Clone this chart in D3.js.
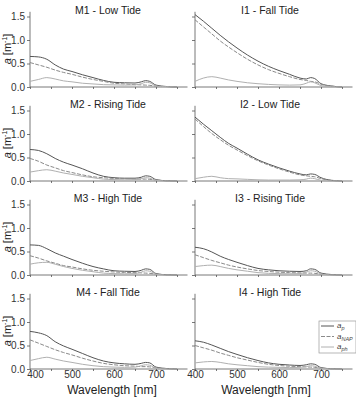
<!DOCTYPE html>
<html>
<head>
<meta charset="utf-8">
<script src="https://cdn.jsdelivr.net/npm/d3@7"></script>
<style>
  body { margin: 0; background: #fff; }
  svg { font-family: "Liberation Sans", Arial, sans-serif; }
  .axis path, .axis line { stroke: #555; stroke-width: 0.8; }
  .axis text { fill: #333; font-size: 10px; }
</style>
</head>
<body>
<div id="chart"></div>
<script>
// wavelengths (nm) shared by all panels
const wavelengths = [400, 420, 440, 460, 480, 500, 525, 550, 575, 600, 625, 650, 665, 675, 685, 700, 725, 750];

const panelNames = ["M1 - Low Tide", "I1 - Fall Tide", "M2 - Rising Tide", "I2 - Low Tide",
  "M3 - High Tide", "I3 - Rising Tide", "M4 - Fall Tide", "I4 - High Tide"];

const m1_ap = [0.65, 0.64, 0.59, 0.47, 0.38, 0.33, 0.26, 0.20, 0.14, 0.10, 0.09, 0.085, 0.11, 0.135, 0.12, 0.04, 0.01, 0.0];
const m1_nap = [0.52, 0.47, 0.42, 0.36, 0.31, 0.27, 0.21, 0.16, 0.12, 0.08, 0.065, 0.05, 0.045, 0.04, 0.035, 0.02, 0.01, 0.0];
const m1_aph = [0.12, 0.16, 0.20, 0.17, 0.13, 0.11, 0.08, 0.065, 0.05, 0.045, 0.04, 0.045, 0.07, 0.10, 0.09, 0.02, 0.005, 0.0];

const i1_ap = [1.54, 1.40, 1.25, 1.10, 0.96, 0.83, 0.68, 0.55, 0.44, 0.35, 0.27, 0.19, 0.17, 0.20, 0.18, 0.07, 0.02, 0.0];
const i1_nap = [1.43, 1.28, 1.13, 0.98, 0.85, 0.73, 0.59, 0.47, 0.37, 0.29, 0.22, 0.16, 0.14, 0.12, 0.11, 0.06, 0.02, 0.0];
const i1_aph = [0.12, 0.19, 0.22, 0.19, 0.15, 0.12, 0.09, 0.07, 0.055, 0.045, 0.04, 0.045, 0.08, 0.11, 0.09, 0.03, 0.005, 0.0];

const m2_ap = [0.67, 0.65, 0.58, 0.48, 0.40, 0.34, 0.26, 0.17, 0.10, 0.07, 0.06, 0.06, 0.08, 0.11, 0.10, 0.03, 0.005, 0.0];
const m2_nap = [0.48, 0.42, 0.34, 0.28, 0.22, 0.18, 0.13, 0.09, 0.07, 0.055, 0.05, 0.045, 0.04, 0.04, 0.035, 0.02, 0.005, 0.0];
const m2_aph = [0.19, 0.22, 0.24, 0.21, 0.17, 0.14, 0.10, 0.07, 0.04, 0.03, 0.025, 0.03, 0.05, 0.07, 0.06, 0.015, 0.0, 0.0];

const i2_ap = [1.36, 1.21, 1.07, 0.93, 0.80, 0.70, 0.57, 0.45, 0.36, 0.28, 0.21, 0.15, 0.13, 0.15, 0.14, 0.07, 0.015, 0.0];
const i2_nap = [1.32, 1.16, 1.01, 0.88, 0.76, 0.66, 0.54, 0.43, 0.34, 0.26, 0.19, 0.13, 0.11, 0.10, 0.09, 0.05, 0.01, 0.0];
const i2_aph = [0.05, 0.08, 0.10, 0.07, 0.05, 0.045, 0.035, 0.025, 0.02, 0.02, 0.02, 0.025, 0.04, 0.06, 0.05, 0.015, 0.0, 0.0];

const m3_ap = [0.64, 0.63, 0.56, 0.47, 0.40, 0.33, 0.25, 0.18, 0.13, 0.09, 0.08, 0.075, 0.10, 0.13, 0.12, 0.03, 0.005, 0.0];
const m3_nap = [0.41, 0.36, 0.30, 0.25, 0.20, 0.17, 0.13, 0.10, 0.08, 0.065, 0.055, 0.05, 0.045, 0.04, 0.035, 0.02, 0.005, 0.0];
const m3_aph = [0.23, 0.26, 0.27, 0.23, 0.18, 0.14, 0.10, 0.07, 0.04, 0.03, 0.025, 0.03, 0.06, 0.09, 0.08, 0.015, 0.0, 0.0];

const i3_ap = [0.59, 0.56, 0.49, 0.40, 0.33, 0.27, 0.20, 0.14, 0.11, 0.09, 0.08, 0.075, 0.09, 0.13, 0.12, 0.04, 0.01, 0.0];
const i3_nap = [0.43, 0.37, 0.31, 0.26, 0.21, 0.17, 0.13, 0.095, 0.075, 0.06, 0.05, 0.045, 0.04, 0.04, 0.035, 0.02, 0.005, 0.0];
const i3_aph = [0.18, 0.20, 0.21, 0.18, 0.14, 0.11, 0.08, 0.05, 0.035, 0.03, 0.025, 0.03, 0.06, 0.09, 0.08, 0.02, 0.0, 0.0];

const m4_ap = [0.80, 0.77, 0.71, 0.58, 0.49, 0.42, 0.33, 0.24, 0.17, 0.13, 0.11, 0.10, 0.12, 0.14, 0.13, 0.04, 0.01, 0.0];
const m4_nap = [0.62, 0.55, 0.48, 0.41, 0.35, 0.30, 0.23, 0.17, 0.12, 0.09, 0.07, 0.06, 0.05, 0.05, 0.045, 0.025, 0.01, 0.0];
const m4_aph = [0.18, 0.22, 0.25, 0.21, 0.17, 0.14, 0.10, 0.07, 0.05, 0.04, 0.035, 0.04, 0.07, 0.09, 0.08, 0.02, 0.0, 0.0];

const i4_ap = [0.60, 0.57, 0.51, 0.44, 0.37, 0.31, 0.24, 0.18, 0.13, 0.10, 0.085, 0.075, 0.09, 0.11, 0.10, 0.03, 0.005, 0.0];
const i4_nap = [0.50, 0.45, 0.40, 0.34, 0.29, 0.24, 0.19, 0.14, 0.10, 0.075, 0.06, 0.05, 0.045, 0.04, 0.035, 0.02, 0.005, 0.0];
const i4_aph = [0.13, 0.15, 0.16, 0.14, 0.11, 0.09, 0.07, 0.05, 0.04, 0.035, 0.03, 0.035, 0.05, 0.07, 0.06, 0.015, 0.0, 0.0];

const yTicks = [0, 0.5, 1.0, 1.5];
const xTicks = [400, 500, 600, 700];

const panelSeries = [
  [m1_ap, m1_nap, m1_aph], [i1_ap, i1_nap, i1_aph],
  [m2_ap, m2_nap, m2_aph], [i2_ap, i2_nap, i2_aph],
  [m3_ap, m3_nap, m3_aph], [i3_ap, i3_nap, i3_aph],
  [m4_ap, m4_nap, m4_aph], [i4_ap, i4_nap, i4_aph]
];

// series styles: a_p, a_NAP, a_ph
const styles = [
  { color: "#555", dash: null, sub: "p" },
  { color: "#8a8a8a", dash: "4,1.5", sub: "NAP" },
  { color: "#b0b0b0", dash: null, sub: "ph" }
];

var width = 356, height = 398;
var svg = d3.select("#chart").append("svg")
  .attr("width", width)
  .attr("height", height);

var colX0 = [30, 195];
var rowBase = [87, 181, 275, 369];

panelSeries.forEach(function (series, i) {
  var col = i % 2, row = Math.floor(i / 2);
  var x = d3.scaleLinear().domain([400, 775]).range([colX0[col], colX0[col] + 157.5]);
  var y = d3.scaleLinear().domain([0, 1.6]).range([rowBase[row], rowBase[row] - 75.2]);

  var g = svg.append("g");

  // x axis
  var xAxis = d3.axisBottom(x).tickValues(d3.range(400, 751, 50)).tickSize(2).tickPadding(0)
    .tickFormat(function (d) { return (row == 3 && xTicks.includes(d)) ? d : ""; });
  g.append("g").attr("class", "axis")
    .attr("transform", "translate(0," + rowBase[row] + ")")
    .call(xAxis)
    .call(function (a) { a.select(".domain").attr("d", "M" + x.range()[0] + ",0H" + x.range()[1]); })
    .call(function (a) {
      // keep the first label clear of "0.0" on the left column
      if (col == 0) a.selectAll(".tick text").filter(function (d) { return d == 400; }).attr("dx", 5);
    });

  // y axis
  var yAxis = d3.axisLeft(y).tickValues(yTicks).tickSize(3).tickPadding(2)
    .tickFormat(function (d) { return col == 0 ? d3.format(".1f")(d) : ""; });
  g.append("g").attr("class", "axis")
    .attr("transform", "translate(" + colX0[col] + ",0)")
    .call(yAxis)
    .call(function (a) { a.select(".domain").attr("d", "M0," + y.range()[0] + "V" + y.range()[1]); });

  // lines
  var line = d3.line()
    .x(function (d, k) { return x(wavelengths[k]); })
    .y(function (d) { return y(d); })
    .curve(d3.curveMonotoneX);

  series.forEach(function (vals, s) {
    g.append("path")
      .datum(vals)
      .attr("fill", "none")
      .attr("stroke", styles[s].color)
      .attr("stroke-width", 1)
      .attr("stroke-dasharray", styles[s].dash)
      .attr("d", line);
  });

  // panel title
  g.append("text")
    .attr("x", col == 0 ? 108 : 270)
    .attr("y", rowBase[row] - 73)
    .attr("text-anchor", "middle")
    .attr("font-size", "10.5px")
    .attr("fill", "#222")
    .text(panelNames[i]);

  // y label on left column
  if (col == 0) {
    var lab = g.append("text")
      .attr("transform", "translate(11," + (rowBase[row] - 38) + ") rotate(-90)")
      .attr("text-anchor", "middle")
      .attr("font-size", "11px")
      .attr("fill", "#222");
    lab.append("tspan").attr("font-style", "italic").text("a");
    lab.append("tspan").text(" [m");
    lab.append("tspan").attr("font-size", "7px").attr("dy", -4).text("-1");
    lab.append("tspan").attr("dy", 4).text("]");
  }
});

// x axis titles
[112, 266].forEach(function (cx) {
  svg.append("text")
    .attr("x", cx)
    .attr("y", 394)
    .attr("text-anchor", "middle")
    .attr("font-size", "12px")
    .attr("fill", "#222")
    .text("Wavelength [nm]");
});

// legend
var legend = svg.append("g").attr("transform", "translate(319,321)");
legend.append("rect")
  .attr("width", 37).attr("height", 32)
  .attr("fill", "#fff").attr("stroke", "#999").attr("stroke-width", 0.7);
styles.forEach(function (st, k) {
  var ly = 5 + k * 10.5;
  legend.append("line")
    .attr("x1", 2).attr("x2", 15).attr("y1", ly).attr("y2", ly)
    .attr("stroke", st.color).attr("stroke-dasharray", st.dash);
  var t = legend.append("text")
    .attr("x", 18).attr("y", ly + 2)
    .attr("font-size", "8px").attr("fill", "#444");
  t.append("tspan").attr("font-style", "italic").text("a");
  t.append("tspan").attr("font-style", "italic").attr("font-size", "5.5px").attr("dy", 2).text(st.sub);
});
</script>
</body>
</html>
